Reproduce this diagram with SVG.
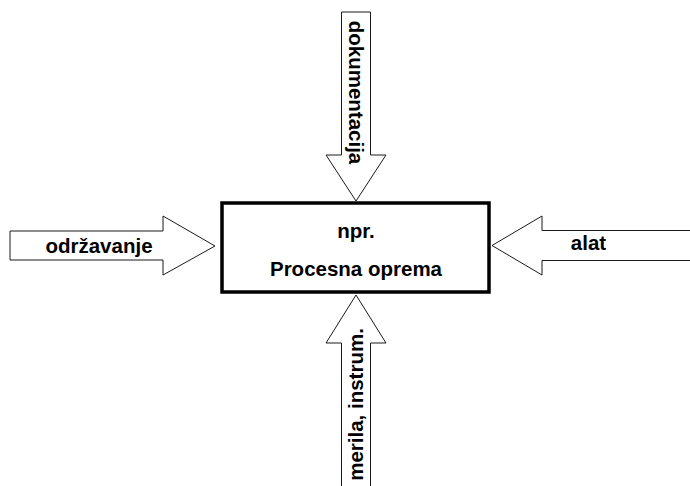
<svg xmlns="http://www.w3.org/2000/svg" width="690" height="486" viewBox="0 0 690 486">
  <style>
    .arrow { fill: #ffffff; stroke: #1a1a1a; stroke-width: 1; }
    .label { font-family: "Liberation Sans", Arial, sans-serif; font-weight: bold; font-size: 20.5px; fill: #000000; }
    .box { fill: #ffffff; stroke: #000000; stroke-width: 3.5; }
  </style>
  <rect width="690" height="486" fill="#ffffff"/>

  <!-- block arrows feeding the central box -->
  <g id="connectors">
    <!-- from top -->
    <path class="arrow" d="M341.5,12 H370.5 V155 H386 L356,201 L326,155 H341.5 Z"/>
    <!-- from left -->
    <path class="arrow" d="M10,231 H163 V216 L215,246 L163,275 V260 H10 Z"/>
    <!-- from right (shaft runs off the edge) -->
    <path class="arrow" d="M691,230.5 H542 V216 L492,245.5 L542,275 V260.5 H691"/>
    <!-- from bottom (shaft runs off the edge) -->
    <path class="arrow" d="M341.5,487 V343 H326 L356,295 L386,343 H370.5 V487"/>
  </g>

  <g id="node-oprema">
    <rect class="box" x="222" y="203" width="267" height="89"/>
    <text class="label" x="356" y="238" text-anchor="middle">npr.</text>
    <text class="label" x="356" y="276" text-anchor="middle">Procesna oprema</text>
  </g>

  <g id="label-dokumentacija">
    <text class="label" transform="translate(348.5,92.5) rotate(90)" text-anchor="middle">dokumentacija</text>
  </g>

  <g id="label-odrzavanje">
    <text class="label" x="99" y="253" text-anchor="middle">održavanje</text>
  </g>

  <g id="label-alat">
    <text class="label" x="588.5" y="250" text-anchor="middle">alat</text>
  </g>

  <g id="label-merila">
    <text class="label" transform="translate(363,404.5) rotate(-90)" text-anchor="middle">merila, instrum.</text>
  </g>
</svg>
